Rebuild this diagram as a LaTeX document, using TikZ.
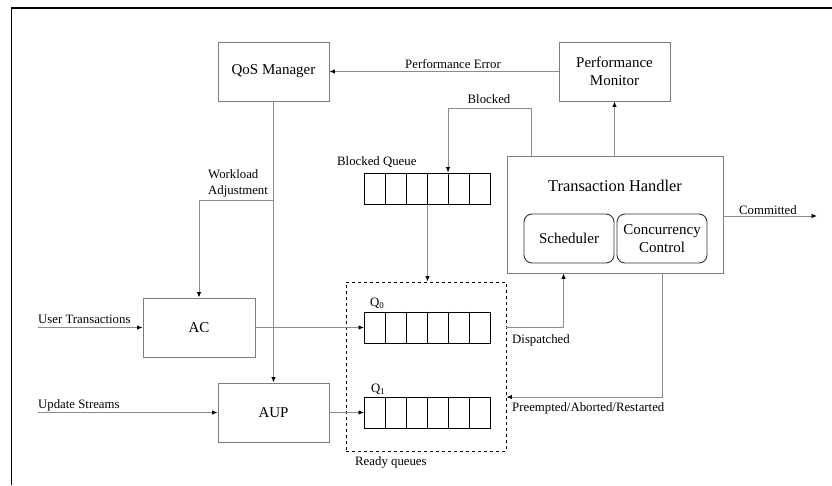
\documentclass[tikz,border=0pt]{standalone}
\usepackage{fontspec}
\setmainfont{Liberation Serif}
\usetikzlibrary{arrows.meta,calc}
\definecolor{boxgray}{RGB}{125,125,125}
\definecolor{linegray}{RGB}{140,140,140}
\begin{document}
\begin{tikzpicture}[x=1pt,y=-1pt,
  box/.style={draw=boxgray,line width=0.9pt,minimum width=111pt,minimum height=59pt,
    inner sep=0pt,font=\fontsize{15}{17.5}\selectfont,align=center},
  subbox/.style={draw=black!80,line width=0.9pt,rounded corners=8pt,minimum width=90pt,
    minimum height=49pt,inner sep=0pt,font=\fontsize{15}{17.5}\selectfont,align=center},
  queue/.style={draw=black,line width=1pt,minimum width=126pt,minimum height=31pt,inner sep=0pt},
  cell/.style={draw=black,line width=1pt},
  conn/.style={draw=linegray,line width=0.9pt,-{Latex[length=5.5pt,width=4.5pt,color=black]}},
  lbl/.style={font=\fontsize{12.8}{16}\selectfont,inner sep=0pt},
]
\useasboundingbox (0,0) rectangle (832,485);

% page frame (left and top edges)
\draw[line width=1.2pt] (11.5,485) -- (11.5,8) -- (832,8);

% main blocks
\node[box] (qos) at (273.5,71.5) {QoS Manager};
\node[box] (pm) at (614.5,71.5) {Performance\\Monitor};
\node[box,minimum width=216pt,minimum height=117pt] (th) at (615,214.5) {};
\node[inner sep=0pt,font=\fontsize{16.4}{19}\selectfont] (tht) at (615,186) {Transaction Handler};
\node[subbox] (sch) at (569,238.5) {Scheduler};
\node[subbox] (cc) at (662,238.5) {Concurrency\\Control};
\node[box,minimum width=112pt] (ac) at (199,327.5) {AC};
\node[box] (aup) at (273.5,412.5) {AUP};

% queues
\node[queue] (bq) at (427.5,188.5) {};
\node[queue] (q0) at (427.5,327.5) {};
\node[queue] (q1) at (427.5,412.5) {};
\foreach \q in {bq,q0,q1}{
  \foreach \i in {1,...,5}{
    \draw[cell] ($(\q.north west)+(21*\i,0)$) -- ($(\q.south west)+(21*\i,0)$);
  }
}
\node[draw=black,dashed,line width=0.9pt,minimum width=160pt,minimum height=169pt,inner sep=0pt]
  (ready) at (426,366.5) {};

% labels
\node[lbl,anchor=west] (bql) at (337,162) {Blocked Queue};
\node[lbl,anchor=west] (q0l) at (370,303) {Q\textsubscript{0}};
\node[lbl,anchor=west] (q1l) at (371,389) {Q\textsubscript{1}};
\node[lbl,anchor=west] (rql) at (355,462.5) {Ready queues};
\node[lbl,anchor=west] (utl) at (38,319) {User Transactions};
\node[lbl,anchor=west] (usl) at (38,405) {Update Streams};
\node[lbl,anchor=west] (dspl) at (512,340) {Dispatched};
\node[lbl,anchor=west] (prel) at (512,408) {Preempted/Aborted/Restarted};
\node[lbl] (cmtl) at (768,210) {Committed};
\node[lbl] (pel) at (453,64) {Performance Error};
\node[lbl] (blkl) at (489,99) {Blocked};
\node[lbl,anchor=west,align=left] (wll) at (208,183) {Workload\\Adjustment};

% helper coordinates
\coordinate (blky) at (0,108);
\coordinate (wly) at (0,200);
\coordinate (prey) at (0,397);
\coordinate (bsrc) at ($(th.north west)+(25,0)$);
\coordinate (bin) at ($(bq.north west)+(84,0)$);
\coordinate (wl) at (qos.south |- wly);
\coordinate (ut) at (38,327.5);
\coordinate (us) at (38,412.5);
\coordinate (dsp) at ($(th.south west)+(57,0)$);
\coordinate (pre) at ($(th.south west)+(156,0)$);
\coordinate (cmt) at (817,216);

% connectors
\draw[conn] (pm.west) -- (qos.east);
\draw[conn] (pm.south |- th.north) -- (pm.south);
\draw[conn] (bsrc) -- (bsrc |- blky) -- (bin |- blky) -- (bin);
\draw[conn] (bq.south) -- (bq.south |- ready.north);
\draw[conn] (qos.south) -- (aup.north);
\draw[conn] (wl) -- (wl -| ac.north) -- (ac.north);
\draw[conn] (ut) -- (ac.west);
\draw[conn] (us) -- (aup.west);
\draw[conn] (ac.east) -- (q0.west);
\draw[conn] (aup.east) -- (q1.west);
\draw[conn] (ready.east |- q0.east) -| (dsp);
\draw[conn] (pre) |- (ready.east |- prey);
\draw[conn] (th.east |- cmt) -- (cmt);
\end{tikzpicture}
\end{document}
